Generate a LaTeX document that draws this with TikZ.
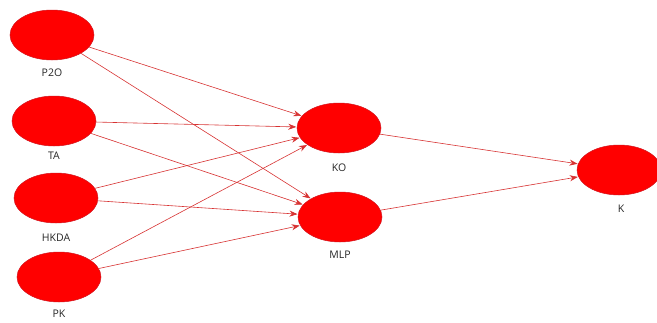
\documentclass[tikz,border=0pt]{standalone}
\usepackage{fontspec}
\setmainfont{Open Sans}
\usetikzlibrary{shapes.geometric,arrows.meta}
\definecolor{latfill}{RGB}{255,0,0}
\definecolor{latedge}{RGB}{210,20,30}
\definecolor{pathred}{RGB}{215,50,50}
\tikzset{
  latent/.style={ellipse, fill=latfill, draw=latedge, line width=0.5pt,
    minimum width=84pt, minimum height=50pt, inner sep=0pt},
  lbl/.style={font=\fontsize{10.5}{12}\selectfont, text=black!85, inner sep=0pt},
  path/.style={draw=pathred, line width=0.6pt,
    -{Stealth[length=8pt,width=6pt]}, shorten >=0.5pt}
}
\begin{document}
\begin{tikzpicture}[x=1pt,y=-1pt]
\useasboundingbox (0,0) rectangle (657,322);
% exogenous constructs
\node[latent] (p2o) at (52,35) {};
\node[latent] (ta) at (54,121) {};
\node[latent] (hkda) at (56,198) {};
\node[latent] (pk) at (59,277) {};
% mediators
\node[latent] (ko) at (339,128) {};
\node[latent] (mlp) at (340,217) {};
% outcome
\node[latent] (k) at (619,170) {};
% labels
\node[lbl] (p2oL) at (52,73) {P2O};
\node[lbl] (taL) at (54,156) {TA};
\node[lbl] (hkdaL) at (56,238) {HKDA};
\node[lbl] (pkL) at (59,314) {PK};
\node[lbl] (koL) at (339,168) {KO};
\node[lbl] (mlpL) at (340,255) {MLP};
\node[lbl] (kL) at (621,209) {K};
% structural paths
\foreach \s in {p2o,ta,hkda,pk}{
  \draw[path] (\s) -- (ko);
  \draw[path] (\s) -- (mlp);
}
\draw[path] (ko) -- (k);
\draw[path] (mlp) -- (k);
\end{tikzpicture}
\end{document}
